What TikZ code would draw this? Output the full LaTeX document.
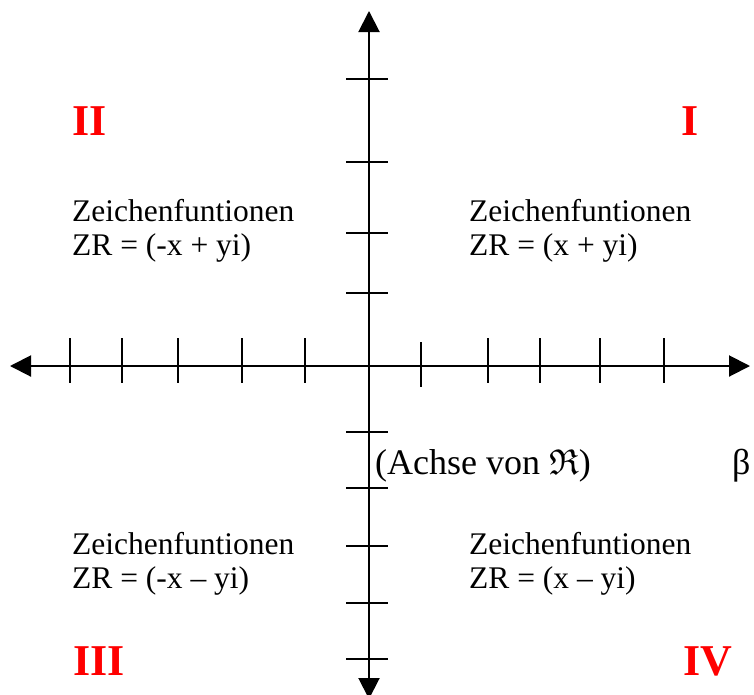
\documentclass[tikz,border=0pt]{standalone}
\usepackage{amssymb}
\usepackage{fontspec}
\setmainfont{Liberation Serif}
\usetikzlibrary{arrows.meta}
\begin{document}
\begin{tikzpicture}[x=1pt,y=-1pt,
  axisline/.style={line width=2pt,{Triangle[length=21pt,width=21pt]}-{Triangle[length=21pt,width=21pt]}},
  tickline/.style={line width=2pt},
  qtext/.style={anchor=base west,inner sep=0pt,font=\fontsize{31.5}{34}\selectfont},
  bigtext/.style={anchor=base west,inner sep=0pt,font=\fontsize{36}{40}\selectfont},
  numeral/.style={anchor=base,inner sep=0pt,text=red,font=\fontsize{44}{48}\selectfont\bfseries}]
\useasboundingbox (0,0) rectangle (754,694);
\fill[white] (0,0) rectangle (754,694);
% axes
\coordinate (L) at (10,366);
\coordinate (R) at (750,366);
\coordinate (T) at (369,11);
\coordinate (B) at (369,699);
\draw[axisline] (L) -- (R);
\draw[axisline] (T) -- (B);
% ticks on horizontal axis
\foreach \x in {70,122,178,242,305,488,540,600,664}
  \draw[tickline] (\x,338) -- (\x,383);
\draw[tickline] (421,342) -- (421,387);
% ticks on vertical axis
\foreach \y in {79,162,233,293,432,488,546,603,659}
  \draw[tickline] (346,\y) -- (388,\y);
% quadrant numerals
\node[numeral] (nII) at (90,135) {II};
\node[numeral] (nI) at (690,135) {I};
\node[numeral] (nIII) at (99,675) {III};
\node[numeral] (nIV) at (708,675) {IV};
% quadrant texts
\node[qtext] (q2a) at (72,221) {Zeichenfuntionen};
\node[qtext] (q2b) at (72,255) {ZR = (-x + yi)};
\node[qtext] (q1a) at (469,221) {Zeichenfuntionen};
\node[qtext] (q1b) at (469,255) {ZR = (x + yi)};
\node[qtext] (q3a) at (72,554) {Zeichenfuntionen};
\node[qtext] (q3b) at (72,588) {ZR = (-x – yi)};
\node[qtext] (q4a) at (469,554) {Zeichenfuntionen};
\node[qtext] (q4b) at (469,588) {ZR = (x – yi)};
% axis labels
\node[bigtext] (achse) at (375,474) {(Achse von $\mathfrak{R}$)};
\node[bigtext] (beta) at (732,474) {β};
\end{tikzpicture}
\end{document}
